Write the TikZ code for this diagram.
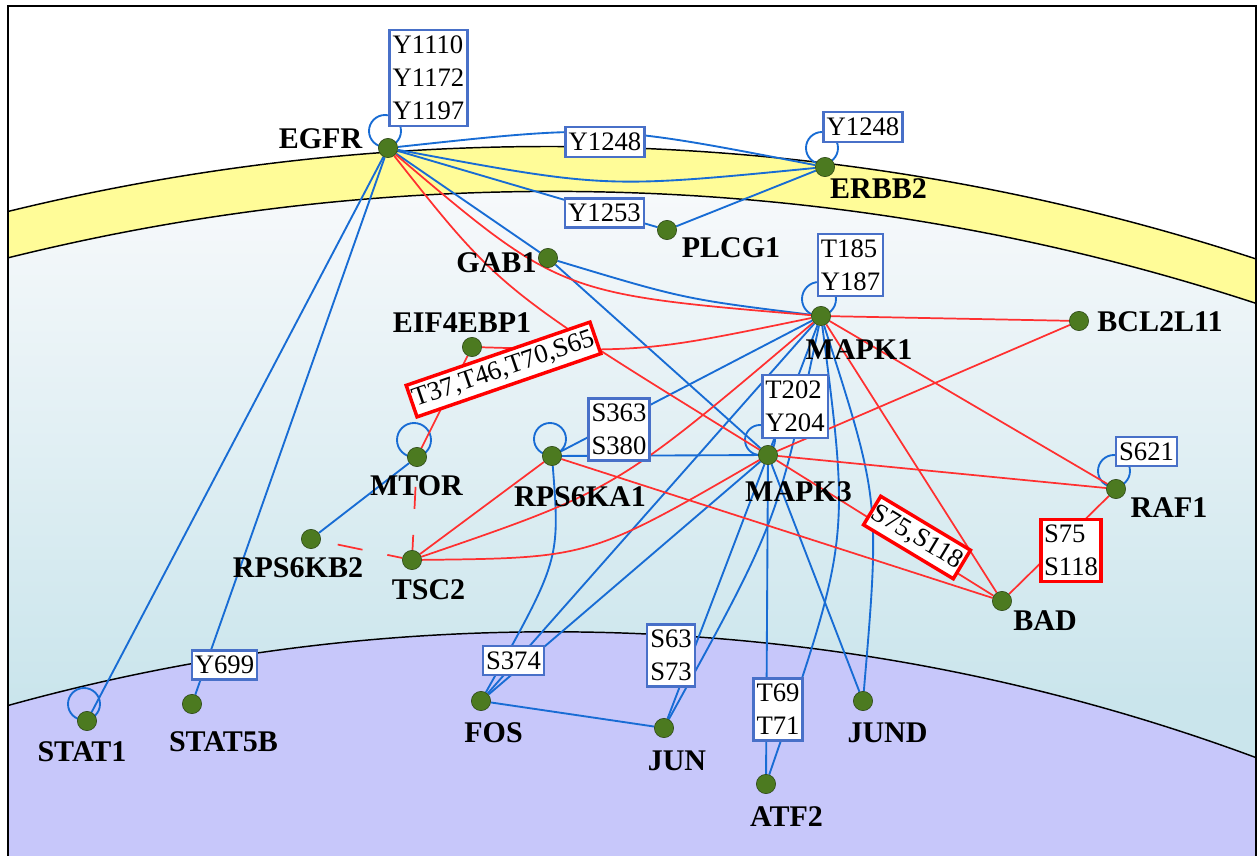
\documentclass[tikz,border=0pt]{standalone}
\usepackage{fontspec}
\setmainfont{Liberation Serif}
\usepackage{xcolor}
\usepackage{tikz}

\definecolor{dotgreen}{RGB}{76,122,32}
\definecolor{dotrim}{RGB}{40,66,18}
\definecolor{linkblue}{RGB}{24,108,212}
\definecolor{linkred}{RGB}{255,48,48}
\definecolor{siteblue}{RGB}{72,112,200}
\definecolor{membrane}{RGB}{255,252,152}
\definecolor{nucleus}{RGB}{199,199,250}
\definecolor{cytotop}{RGB}{247,249,251}
\definecolor{cytobottom}{RGB}{202,229,236}

\pgfdeclarelayer{back}
\pgfdeclarelayer{links}
\pgfsetlayers{back,links,main}

\begin{document}
\begin{tikzpicture}[
		x=0.75pt, y=-0.75pt,
		protein/.style={
			circle, draw=dotrim, line width=0.4pt, fill=dotgreen,
			minimum size=14.5pt, inner sep=0pt,
		},
		gene name/.style={
			font=\fontsize{22.5}{27}\selectfont\bfseries,
			inner sep=0pt, text height=15pt, text depth=0pt,
		},
		site box/.style={
			rectangle, draw=siteblue, line width=1.8pt, fill=white, align=left,
			inner xsep=2.3pt, inner ysep=4.3pt, font=\fontsize{20}{24.75}\selectfont,
		},
		red site/.style={site box, draw=red, line width=2.6pt},
		blue link/.style={linkblue, line width=1.4pt},
		red link/.style={linkred, line width=1.3pt},
		inhibit link/.style={red link, dash pattern=on 16.5pt off 19.5pt},
	]
	\useasboundingbox (0,0) rectangle (1258,856);

	% proteins
	\node[protein] (egfr) at (388,148) {};
	\node[protein] (erbb2) at (825,167) {};
	\node[protein] (plcg1) at (667,230) {};
	\node[protein] (gab1) at (548,258) {};
	\node[protein] (mapk1) at (821,316) {};
	\node[protein] (bcl) at (1079,321) {};
	\node[protein] (eif) at (472,347) {};
	\node[protein] (mtor) at (417,457) {};
	\node[protein] (rsk) at (552,456) {};
	\node[protein] (mapk3) at (768,455) {};
	\node[protein] (tsc2) at (412,560) {};
	\node[protein] (s6kb2) at (311,539) {};
	\node[protein] (raf1) at (1116,489) {};
	\node[protein] (bad) at (1002,601) {};
	\node[protein] (stat1) at (87,721) {};
	\node[protein] (stat5b) at (192,704) {};
	\node[protein] (fos) at (481,701) {};
	\node[protein] (jun) at (664,728) {};
	\node[protein] (jund) at (863,701) {};
	\node[protein] (atf2) at (766,784) {};

	\node[gene name] (egfrT) at (320.5,138) {EGFR};
	\node[gene name] (erbb2T) at (878.5,188.5) {ERBB2};
	\node[gene name] (plcg1T) at (731,247.5) {PLCG1};
	\node[gene name] (gab1T) at (496.5,262.5) {GAB1};
	\node[gene name] (mapk1T) at (859,349) {MAPK1};
	\node[gene name] (bclT) at (1160,321.5) {BCL2L11};
	\node[gene name] (eifT) at (462,322) {EIF4EBP1};
	\node[gene name] (mtorT) at (416.5,485) {MTOR};
	\node[gene name] (rskT) at (580,496) {RPS6KA1};
	\node[gene name] (mapk3T) at (798.5,491) {MAPK3};
	\node[gene name] (tsc2T) at (428.5,589) {TSC2};
	\node[gene name] (s6kb2T) at (298,567.5) {RPS6KB2};
	\node[gene name] (raf1T) at (1169,507) {RAF1};
	\node[gene name] (badT) at (1045,620) {BAD};
	\node[gene name] (stat1T) at (82,751.5) {STAT1};
	\node[gene name] (stat5bT) at (223.5,741) {STAT5B};
	\node[gene name] (fosT) at (493.5,732.5) {FOS};
	\node[gene name] (junT) at (677,760) {JUN};
	\node[gene name] (jundT) at (887.5,732.5) {JUND};
	\node[gene name] (atf2T) at (786.5,816) {ATF2};

	% phosphosites
	\node[site box] (egfrS) at (428.5,78) {Y1110\\Y1172\\Y1197};
	\node[site box] (egfrS2) at (605,142) {Y1248};
	\node[site box] (erbb2S) at (863,127) {Y1248};
	\node[site box] (plcg1S) at (604.5,213) {Y1253};
	\node[site box] (mapk1S) at (850.5,265) {T185\\Y187};
	\node[site box] (mapk3S) at (795,406.5) {T202\\Y204};
	\node[site box] (rskS) at (619,429.5) {S363\\S380};
	\node[site box] (raf1S) at (1146.5,451.5) {S621};
	\node[red site] (badS) at (1071,550.5) {S75\\S118};
	\node[red site, rotate=-31, inner xsep=1pt] (badS2) at (917,537.5) {S75,S118};
	\node[red site, rotate=19, inner xsep=1.5pt] (eifS) at (503.5,369.5) {T37,T46,T70,S65};
	\node[site box] (stat5bS) at (224.5,665) {Y699};
	\node[site box] (fosS) at (513.5,660.5) {S374};
	\node[site box] (junS) at (671,655.5) {S63\\S73};
	\node[site box] (atf2S) at (778,709.5) {T69\\T71};

	\begin{pgfonlayer}{links}
		\draw[blue link] (egfr) .. controls (605.5,124.5) .. (erbb2);
		\draw[blue link] (egfr) .. controls (605.5,188.5) .. (erbb2);
		\draw[blue link] (egfr) -- (plcg1);
		\draw[blue link] (plcg1) -- (erbb2);
		\draw[blue link] (egfr) -- (gab1);
		\draw[blue link] (egfr) -- (stat1);
		\draw[blue link] (egfr) -- (stat5b);
		\draw[blue link] (gab1) -- (mapk3);
		\draw[blue link] (gab1) .. controls (684,299) .. (mapk1);
		\draw[blue link] (mtor) -- (s6kb2);
		\draw[blue link] (rsk) -- (mapk1);
		\draw[blue link] (rsk) -- (mapk3);
		\draw[blue link] (rsk) .. controls (560,560) .. (fos);
		\draw[blue link] (mapk1) -- (mapk3);
		\draw[blue link] (mapk1) -- (fos);
		\draw[blue link] (mapk3) -- (fos);
		\draw[blue link] (mapk1) .. controls (777.5,522) .. (jun);
		\draw[blue link] (mapk3) -- (jun);
		\draw[blue link] (mapk3) -- (atf2);
		\draw[blue link] (mapk1) .. controls (850,540) .. (atf2);
		\draw[blue link] (mapk3) -- (jund);
		\draw[blue link] (mapk1) .. controls (880,500) .. (jund);
		\draw[blue link] (fos) -- (jun);
		\foreach \p/\dx/\dy/\r in {egfr/-3/-17/16, erbb2/-3/-19/16, mapk1/-2/-17/17,
				mapk3/-8/-15/15, rsk/-2/-17/16, mtor/-3/-17/17, raf1/-2/-18/16, stat1/-3/-17/16}
			\draw[blue link] (\p.center) ++(\dx,\dy) circle[radius=\r];

		\draw[red link] (egfr) .. controls (560,294) .. (mapk1);
		\draw[red link] (egfr) .. controls (500,290) .. (mapk3);
		\draw[red link] (mapk1) -- (bcl);
		\draw[red link] (mapk3) -- (bcl);
		\draw[red link] (mapk1) -- (raf1);
		\draw[red link] (mapk3) -- (raf1);
		\draw[red link] (mapk1) -- (bad);
		\draw[red link] (mapk3) -- (bad);
		\draw[red link] (rsk) -- (bad);
		\draw[red link] (raf1) -- (bad);
		\draw[red link] (mapk1) .. controls (646,352) .. (eif);
		\draw[red link] (mtor) -- (eif);
		\draw[red link] (tsc2) -- (rsk);
		\draw[red link] (tsc2) .. controls (616,490) .. (mapk1);
		\draw[red link] (tsc2) .. controls (590,558) .. (mapk3);
		\draw[inhibit link, dash phase=21pt] (mtor) -- (tsc2);
		\draw[inhibit link, dash pattern=on 19pt off 19pt, dash phase=25pt] (s6kb2) -- (tsc2);
	\end{pgfonlayer}

	% cell compartments
	\begin{pgfonlayer}{back}
		\begin{scope}
			\clip (8,6) rectangle (1256,870);
			\fill[white] (8,6) rectangle (1256,870);
			\fill[membrane] (549,2413) circle[radius=2266.5];
			\begin{scope}
				\clip (553,2442) circle[radius=2250.6];
				\shade[top color=cytotop, bottom color=cytobottom] (8,190) rectangle (1256,700);
				\fill[cytobottom] (8,699) rectangle (1256,870);
			\end{scope}
			\fill[nucleus] (551.5,2658.4) circle[radius=2026.6];
			\draw[line width=1.1pt] (549,2413) circle[radius=2266.5]
				(553,2442) circle[radius=2250.6] (551.5,2658.4) circle[radius=2026.6];
		\end{scope}
		\draw[line width=1.1pt] (8,6) rectangle (1256,870);
	\end{pgfonlayer}
\end{tikzpicture}
\end{document}
